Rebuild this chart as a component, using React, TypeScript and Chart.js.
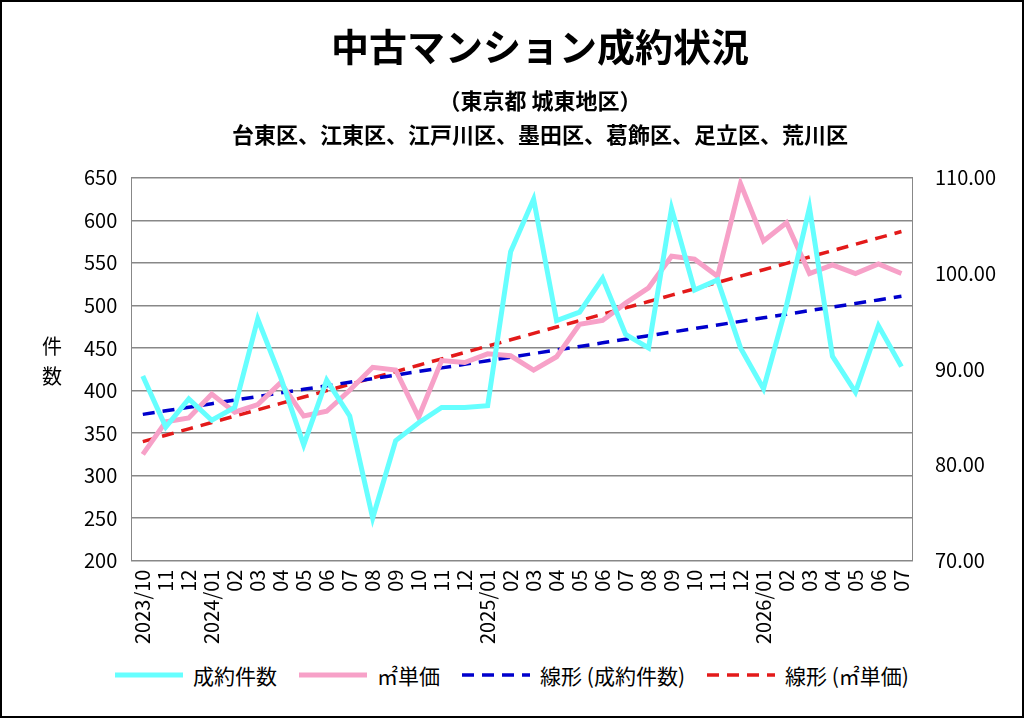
import React, { useEffect, useRef } from "react";
import { Chart, registerables } from "chart.js";
Chart.register(...registerables);

const labels = ["2023/10","11","12","2024/01","02","03","04","05","06","07","08","09","10","11","12","2025/01","02","03","04","05","06","07","08","09","10","11","12","2026/01","02","03","04","05","06","07"];
const counts = [417,357,390,365,380,484,415,336,412,370,250,341,362,380,380,382,563,625,482,492,532,466,450,614,518,530,450,402,500,615,440,398,476,428];
const prices = [81.1,84.5,84.9,87.4,85.5,86.3,88.6,85.1,85.6,87.8,90.2,89.9,85.0,90.9,90.7,91.6,91.4,89.9,91.3,94.7,95.1,96.9,98.5,101.8,101.5,99.7,109.4,103.4,105.3,100.0,100.9,100.0,101.0,100.0];
const leftTicks = [200, 650, 50];
const rightTicks = [70, 110, 10];
const seriesNames = ["成約件数", "㎡単価", "線形 (成約件数)", "線形 (㎡単価)"];
const seriesColors = ["#66ffff", "#f7a1c8", "#0000cc", "#e31a1a"];

function trend(v: number[]) {
  const n = v.length;
  let sx = 0, sy = 0, sxx = 0, sxy = 0;
  v.forEach((y, x) => { sx += x; sy += y; sxx += x * x; sxy += x * y; });
  const b = (n * sxy - sx * sy) / (n * sxx - sx * sx);
  const a = (sy - b * sx) / n;
  return v.map((_, x) => a + b * x);
}

const font = "'Noto Sans CJK JP', 'Noto Sans', sans-serif";

export default function App() {
  const ref = useRef<HTMLCanvasElement>(null);
  useEffect(() => {
    document.body.style.margin = "0";
    const chart = new Chart(ref.current!, {
      type: "line",
      data: {
        labels,
        datasets: [
          { label: seriesNames[0], data: counts, borderColor: seriesColors[0], borderWidth: 5, pointRadius: 0, yAxisID: "y" },
          { label: seriesNames[1], data: prices, borderColor: seriesColors[1], borderWidth: 5, pointRadius: 0, yAxisID: "y1" },
          { label: seriesNames[2], data: trend(counts), borderColor: seriesColors[2], borderWidth: 3.5, borderDash: [12, 8], pointRadius: 0, yAxisID: "y" },
          { label: seriesNames[3], data: trend(prices), borderColor: seriesColors[3], borderWidth: 3.5, borderDash: [12, 8], pointRadius: 0, yAxisID: "y1" },
        ],
      },
      options: {
        animation: false,
        responsive: false,
        layout: { padding: { left: 68, right: 12, top: 0, bottom: 0 } },
        plugins: {
          title: { display: true, text: "中古マンション成約状況", color: "#000", font: { family: font, size: 38, weight: "bold" }, padding: { top: 22, bottom: 14 } },
          subtitle: { display: true, text: ["（東京都 城東地区）", "台東区、江東区、江戸川区、墨田区、葛飾区、足立区、荒川区"], color: "#000", font: { family: font, size: 22, weight: "bold", lineHeight: 1.55 }, padding: { bottom: 26 } },
          legend: { display: false },
          tooltip: { enabled: false },
        },
        scales: {
          x: {
            offset: true,
            grid: { display: false, offset: true, tickLength: 6, color: "#888" } as any,
            border: { color: "#888" },
            ticks: { color: "#000", font: { family: font, size: 20 }, maxRotation: 90, minRotation: 90, autoSkip: false },
          },
          y: {
            min: leftTicks[0], max: leftTicks[1],
            ticks: { stepSize: leftTicks[2], color: "#000", font: { family: font, size: 20 }, padding: 14 },
            grid: { color: "#888", lineWidth: 1.5, drawTicks: false },
            border: { color: "#888" },
          },
          y1: {
            position: "right", min: rightTicks[0], max: rightTicks[1],
            ticks: { stepSize: rightTicks[2], color: "#000", font: { family: font, size: 20 }, callback: (v: any) => Number(v).toFixed(2), padding: 14 },
            grid: { display: false },
            border: { color: "#888" },
          },
        },
      },
      plugins: [{
        id: "ytitle",
        afterDraw(c: any) {
          const ctx = c.ctx;
          ctx.save();
          ctx.fillStyle = "#000";
          ctx.font = `20px ${font}`;
          ctx.textAlign = "center";
          ctx.fillText("件", 50, 352);
          ctx.fillText("数", 50, 382);
          ctx.restore();
        },
      }],
    } as any);
    return () => chart.destroy();
  }, []);
  return (
    <div style={{ position: "relative", width: 1024, height: 718, boxSizing: "border-box", border: "2px solid #000", background: "#fff" }}>
      <canvas ref={ref} width={1020} height={645} style={{ display: "block" }} />
      <div style={{ position: "absolute", top: 658, left: 0, width: 1020, display: "flex", justifyContent: "center", gap: 22, fontFamily: font, fontSize: 21, color: "#000" }}>
        {seriesNames.map((n, i) => (
          <div key={n} style={{ display: "flex", alignItems: "center", gap: 10 }}>
            <svg width={68} height={10}>
              <line x1={0} y1={5} x2={68} y2={5} stroke={seriesColors[i]} strokeWidth={i < 2 ? 5 : 3.5} strokeDasharray={i < 2 ? undefined : "12 8"} />
            </svg>
            <span>{n}</span>
          </div>
        ))}
      </div>
    </div>
  );
}
